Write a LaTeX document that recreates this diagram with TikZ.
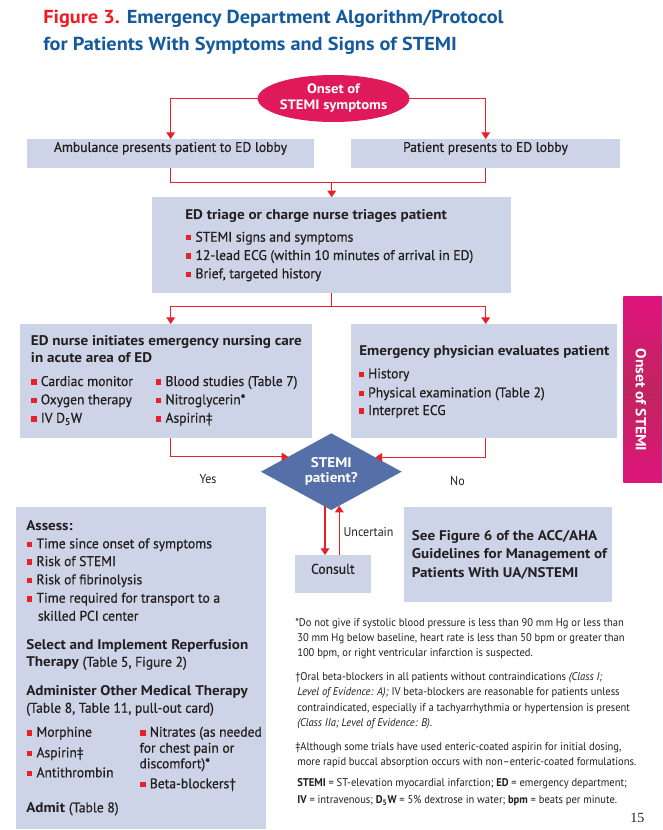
\documentclass[tikz,border=0pt]{standalone}
\usepackage{fontspec}
\setmainfont[FakeStretch=0.94]{PT Sans}
\newfontfamily\semib[FakeStretch=0.97,FakeBold=0.6]{PT Sans}
\newfontfamily\hb[FakeStretch=1.08]{PT Sans}
\newfontfamily\pgnum{Liberation Serif}
\usetikzlibrary{shapes.geometric,arrows.meta,fit,backgrounds,calc}
\definecolor{tred}{HTML}{ED1C24}
\definecolor{tblue}{HTML}{145A9C}
\definecolor{boxc}{HTML}{CDD4E7}
\definecolor{diac}{HTML}{5570A8}
\definecolor{ellc}{HTML}{E01A5A}
\definecolor{lred}{HTML}{E8202A}
\definecolor{ink}{HTML}{231F20}
\definecolor{magA}{HTML}{E0147F}
\definecolor{magB}{HTML}{C0245E}
\newcommand\bsq{\textcolor{lred}{\rule[0.9pt]{4pt}{4pt}}\hspace{3.2pt}}
\newcommand\rg{\semib\mdseries}
\begin{document}
\begin{tikzpicture}[x=0.75pt,y=-0.75pt,
  box/.style={fill=boxc,draw=none,inner sep=0,outer sep=0},
  conn/.style={draw=lred,line width=0.9pt,-{Triangle[width=6.5pt,length=5pt]}},
  plain/.style={draw=lred,line width=0.9pt},
  txt/.style={anchor=base west,inner sep=0,text=ink,font=\semib\fontsize{10.5}{12}\selectfont},
  head/.style={anchor=base west,inner sep=0,text=ink,font=\hb\bfseries\fontsize{10.5}{12}\selectfont},
  foot/.style={anchor=base west,inner sep=0,text=ink,font=\fontsize{8.4}{10}\selectfont},
  lab/.style={anchor=base,inner sep=0,text=ink,font=\fontsize{9.6}{11}\selectfont},
  ttl/.style={anchor=base west,inner sep=0,text=tblue,font=\hb\bfseries\fontsize{14.1}{16}\selectfont}]
\useasboundingbox (0,0) rectangle (662,830);
\fill[white] (0,0) rectangle (662,830);
% title
\node[ttl] (t1) at (43,23.3) {\textcolor{tred}{Figure 3.} Emergency Department Algorithm/Protocol};
\node[ttl] (t2) at (43,50.7) {for Patients With Symptoms and Signs of STEMI};
% onset ellipse
\node[ellipse,fill=ellc,minimum width=107.25pt,minimum height=35.25pt,inner sep=0,outer sep=0,align=center,text=white,font=\hb\bfseries\fontsize{10.2}{12}\selectfont] (onset) at (333.5,98.5) {Onset of\\STEMI symptoms};
% boxes
\node[box,fit={(27,139) (314,167.7)},text=ink,font=\semib\fontsize{10.5}{12}\selectfont] (amb) {Ambulance presents patient to ED lobby};
\node[box,fit={(351,139) (620,167.7)},text=ink,font=\semib\fontsize{10.5}{12}\selectfont] (pat) {Patient presents to ED lobby};
\node[box,fit={(152.3,197.3) (510.7,293.3)}] (triage) {};
\node[box,fit={(20,324) (311.7,438.3)}] (nurse) {};
\node[box,fit={(351,324) (616.7,438.3)}] (phys) {};
\node[box,fit={(16,506.7) (266,829)}] (assess) {};
\node[box,fit={(295,555) (370.7,592.7)},text=ink,font=\semib\fontsize{10.5}{12}\selectfont] (consult) {Consult};
\node[box,fit={(404,507.3) (611.7,601.7)}] (see) {};
\node[diamond,fill=diac,aspect=1.834,minimum width=105.5pt,minimum height=57.5pt,inner sep=0,outer sep=0,align=center,text=white,font=\hb\bfseries\fontsize{10.5}{11.25}\selectfont] (dia) at (331.3,471.7) {STEMI\\patient?};
% magenta bar
\node[fit={(623.3,296) (662,482)},inner sep=0,outer sep=0,top color=magA,bottom color=magA!90!magB,middle color=magB] (bar) {};
\node[rotate=-90,text=white,inner sep=0,font=\hb\bfseries\fontsize{10.9}{12}\selectfont] (bart) at (641,400) {Onset of STEMI};
% triage text
\node[head] (tr0) at (185,219.3) {ED triage or charge nurse triages patient};
\node[txt] (tr1) at (185.7,241.7) {\bsq STEMI signs and symptoms};
\node[txt] (tr2) at (185.7,260) {\bsq 12-lead ECG (within 10 minutes of arrival in ED)};
\node[txt] (tr3) at (185.7,278.3) {\bsq Brief, targeted history};
% nurse text
\node[head] (nu0) at (30.7,345) {ED nurse initiates emergency nursing care};
\node[head] (nu1) at (30.7,362.3) {in acute area of ED};
\node[txt] (nu2) at (31,386) {\bsq Cardiac monitor};
\node[txt] (nu3) at (31,404.3) {\bsq Oxygen therapy};
\node[txt] (nu4) at (31,422.7) {\bsq IV D\textsubscript{5}W};
\node[txt] (nu5) at (155.7,386) {\bsq Blood studies (Table 7)};
\node[txt] (nu6) at (155.7,404.3) {\bsq Nitroglycerin*};
\node[txt] (nu7) at (155.7,422.7) {\bsq Aspirin‡};
% physician text
\node[head] (ph0) at (359,355) {Emergency physician evaluates patient};
\node[txt] (ph1) at (358.3,378.3) {\bsq History};
\node[txt] (ph2) at (358.3,397.3) {\bsq Physical examination (Table 2)};
\node[txt] (ph3) at (358.3,415) {\bsq Interpret ECG};
% see text
\node[head] (se0) at (411.7,540.7) {See Figure 6 of the ACC/AHA};
\node[head] (se1) at (411.7,558.3) {Guidelines for Management of};
\node[head] (se2) at (411.7,577.3) {Patients With UA/NSTEMI};
% assess text
\node[head] (as0) at (26,530) {Assess:};
\node[txt] (as1) at (26.7,548.3) {\bsq Time since onset of symptoms};
\node[txt] (as2) at (26.7,566) {\bsq Risk of STEMI};
\node[txt] (as3) at (26.7,584.3) {\bsq Risk of fibrinolysis};
\node[txt] (as4) at (26.7,602.7) {\bsq Time required for transport to a};
\node[txt] (as5) at (37.7,620.7) {skilled PCI center};
\node[head] (as6) at (26,649) {Select and Implement Reperfusion};
\node[head] (as7) at (26,666.7) {Therapy {\rg(Table 5, Figure 2)}};
\node[head] (as8) at (26,695) {Administer Other Medical Therapy};
\node[txt] (as9) at (26,712.7) {(Table 8, Table 11, pull-out card)};
\node[txt] (as10) at (26.7,736.7) {\bsq Morphine};
\node[txt] (as11) at (26.7,757.3) {\bsq Aspirin‡};
\node[txt] (as12) at (26.7,777.3) {\bsq Antithrombin};
\node[txt] (as13) at (140,736.7) {\bsq Nitrates (as needed};
\node[txt] (as14) at (139.3,752.7) {for chest pain or};
\node[txt] (as15) at (139.3,768.3) {discomfort)*};
\node[txt] (as16) at (140,788.3) {\bsq Beta-blockers†};
\node[head] (as17) at (26,812.3) {Admit {\rg(Table 8)}};
% labels
\node[lab] (yes) at (208,483.3) {Yes};
\node[lab] (no) at (457.5,485) {No};
\node[lab,anchor=base west] (unc) at (343.3,536.7) {Uncertain};
% footnotes
\node[foot] (f1) at (295,626.7) {*Do not give if systolic blood pressure is less than 90 mm Hg or less than};
\node[foot] (f2) at (297,641.7) {30 mm Hg below baseline, heart rate is less than 50 bpm or greater than};
\node[foot] (f3) at (297,656.7) {100 bpm, or right ventricular infarction is suspected.};
\node[foot] (f4) at (295,680) {†Oral beta-blockers in all patients without contraindications \textit{(Class I;}};
\node[foot] (f5) at (297,695) {\textit{Level of Evidence: A);} IV beta-blockers are reasonable for patients unless};
\node[foot] (f6) at (297,711.7) {contraindicated, especially if a tachyarrhythmia or hypertension is present};
\node[foot] (f7) at (297,726.7) {\textit{(Class IIa; Level of Evidence: B).}};
\node[foot] (f8) at (295,750) {‡Although some trials have used enteric-coated aspirin for initial dosing,};
\node[foot] (f9) at (297,765) {more rapid buccal absorption occurs with non–enteric-coated formulations.};
\node[foot] (f10) at (297,786.7) {\textbf{STEMI} = ST-elevation myocardial infarction; \textbf{ED} = emergency department;};
\node[foot] (f11) at (297,803.3) {\textbf{IV} = intravenous; \textbf{D\textsubscript{5}W} = 5\% dextrose in water; \textbf{bpm} = beats per minute.};
\node[anchor=base west,inner sep=0,text=ink,font=\pgnum\fontsize{10.5}{12}\selectfont] (pg) at (630,822.7) {15};
% helper coordinates
\coordinate (xL) at (170.7,0);
\coordinate (xR) at (485.7,0);
\coordinate (xM) at (331.7,0);
\coordinate (xYes) at (138.3,0);
\coordinate (xNo) at (510,0);
\coordinate (xD) at (325,0);
\coordinate (xU) at (339.3,0);
\coordinate (join) at (331.7,182.3);
\coordinate (split) at (331.7,306.7);
\coordinate (yn) at (331.3,489.3);
% connectors
\draw[conn] (onset.west) -| (amb.north -| xL);
\draw[conn] (onset.east) -| (pat.north -| xR);
\draw[plain] (amb.south -| xL) |- (join);
\draw[plain] (pat.south -| xR) |- (join);
\draw[conn] (join) -- (triage.north -| join);
\draw[plain] (triage.south -| split) -- (split);
\draw[conn] (split) -| (nurse.north -| xL);
\draw[conn] (split) -| (phys.north -| xR);
\draw[conn] (nurse.south -| xL) |- (dia.161.8);
\draw[conn] (phys.south -| xR) |- (dia.18.2);
\begin{scope}[on background layer]
\draw[conn] (yn) -| (assess.north -| xYes);
\draw[conn] (yn) -| (see.north -| xNo);
\end{scope}
\draw[conn] (xD |- dia.259.8) -- (xD |- consult.north);
\draw[conn] (xU |- consult.north) -- (xU |- dia.283.2);
\end{tikzpicture}
\end{document}
